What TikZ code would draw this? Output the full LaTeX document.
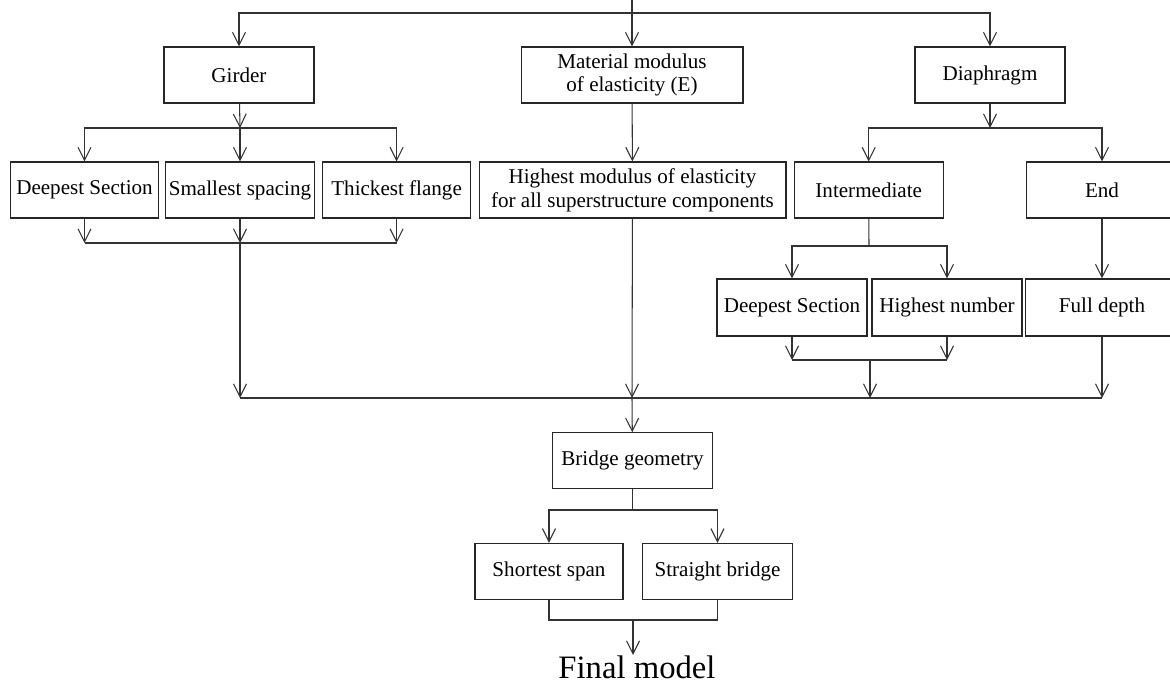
\documentclass[tikz,border=0pt]{standalone}
\usepackage{fontspec}
\setmainfont{Liberation Serif}
\usepackage{tikz}
\usetikzlibrary{arrows.meta}
\tikzset{
  >={Straight Barb[length=2.6mm,width=2.6mm]},
  every path/.style={line width=0.6pt},
  block/.style={draw=black!85, rectangle, minimum height=1.12cm, inner sep=0pt,
    align=center, font=\fontsize{12}{13.5}\selectfont},
  link/.style={draw=black!80},
}

\begin{document}
\begin{tikzpicture}[x=0.02cm, y=-0.02cm]
    \useasboundingbox (0,0) rectangle (1170,685);
    % top level
    \node[block, minimum width=3cm]    (G) at (239,75)  {Girder};
    \node[block, minimum width=4.44cm] (E) at (632,75)  {Material modulus\\of elasticity (E)};
    \node[block, minimum width=3cm]    (D) at (990,75)  {Diaphragm};
    % second level
    \node[block, minimum width=2.97cm] (G1) at (84.5,190)  {Deepest Section};
    \node[block, minimum width=2.98cm] (G2) at (240,190)   {Smallest spacing};
    \node[block, minimum width=2.96cm] (G3) at (396.6,190) {Thickest flange};
    \node[block, minimum width=6.14cm] (E1) at (632.5,190) {Highest modulus of elasticity\\for all superstructure components};
    \node[block, minimum width=2.98cm] (D1) at (868.7,190) {Intermediate};
    \node[block, minimum width=3.02cm] (D2) at (1102,190)  {End};
    % third level
    \node[block, minimum width=3cm, minimum height=1.14cm]    (D11) at (792,307.5)  {Deepest Section};
    \node[block, minimum width=3cm, minimum height=1.14cm]    (D12) at (947,307.5)  {Highest number};
    \node[block, minimum width=3.07cm, minimum height=1.14cm] (D21) at (1102,307.5) {Full depth};
    % geometry
    \node[block, minimum width=3.2cm, minimum height=1.11cm] (B)  at (632.5,460.5) {Bridge geometry};
    \node[block, minimum width=2.96cm] (B1) at (549,571.3)   {Shortest span};
    \node[block, minimum width=2.99cm] (B2) at (717.5,571.3) {Straight bridge};
    \node[anchor=north, inner sep=0pt, font=\fontsize{18.6}{20}\selectfont] (F) at (637,655) {Final model};

    % junctions
    \coordinate (top) at (632,0);
    \coordinate (j0)  at (632,13);
    \coordinate (jG)  at (240,128);
    \coordinate (jG2) at (240,243);
    \coordinate (jD)  at (990,128);
    \coordinate (jD1) at (869,246);
    \coordinate (jD2) at (870,360);
    \coordinate (jM)  at (632,398);
    \coordinate (jB)  at (632.5,510);
    \coordinate (jF)  at (633,620);

    \draw[link, ->] (top) -- (E);
    \draw[link, ->] (j0) -| (G);
    \draw[link, ->] (j0) -| (D);

    \draw[link, ->] (G) -- (jG);
    \draw[link, ->] (jG) -| (G1);
    \draw[link, ->] (jG) -- (G2);
    \draw[link, ->] (jG) -| (G3);
    \draw[link, ->] (G1) -- (G1 |- jG2);
    \draw[link, ->] (G2) -- (jG2);
    \draw[link, ->] (G3) -- (G3 |- jG2);
    \draw[link] (G1 |- jG2) -- (G3 |- jG2);

    \draw[link, ->] (E) -- (E1);

    \draw[link, ->] (D) -- (jD);
    \draw[link, ->] (jD) -| (D1);
    \draw[link, ->] (jD) -| (D2);
    \draw[link] (D1) -- (jD1);
    \draw[link, ->] (jD1) -| (D11);
    \draw[link, ->] (jD1) -| (D12);
    \draw[link, ->] (D11) -- (D11 |- jD2);
    \draw[link, ->] (D12) -- (D12 |- jD2);
    \draw[link] (D11 |- jD2) -- (D12 |- jD2);
    \draw[link, ->] (D2) -- (D21);

    \draw[link] (jG2 |- jM) -- (D21 |- jM);
    \draw[link, ->] (jG2) -- (jG2 |- jM);
    \draw[link, ->] (E1) -- (jM);
    \draw[link, ->] (jD2) -- (jD2 |- jM);
    \draw[link, ->] (D21) -- (D21 |- jM);
    \draw[link, ->] (jM) -- (B);

    \draw[link] (B) -- (jB);
    \draw[link, ->] (jB) -| (B1);
    \draw[link, ->] (jB) -| (B2);
    \draw[link] (B1) -- (B1 |- jF) -- (B2 |- jF) -- (B2);
    \draw[link, ->] (jF) -- (jF |- F.north);
\end{tikzpicture}
\end{document}
